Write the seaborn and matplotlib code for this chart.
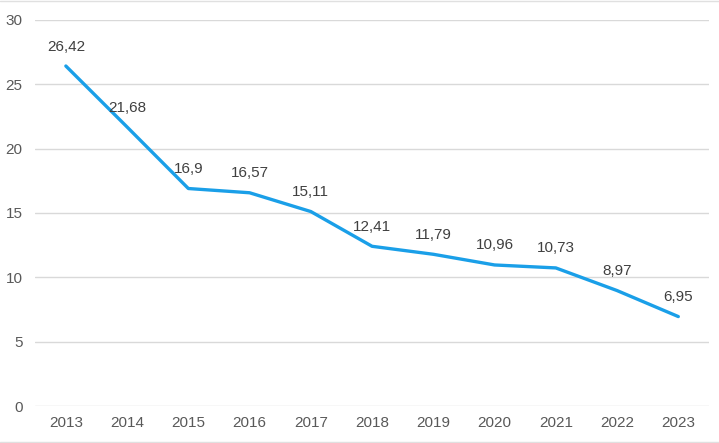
import numpy as np
import pandas as pd
import matplotlib
matplotlib.use('Agg')
import matplotlib.pyplot as plt
import seaborn as sns

years = ['2013', '2014', '2015', '2016', '2017', '2018', '2019', '2020', '2021', '2022', '2023']
values = [26.42, 21.68, 16.9, 16.57, 15.11, 12.41, 11.79, 10.96, 10.73, 8.97, 6.95]
labels = ['26,42', '21,68', '16,9', '16,57', '15,11', '12,41', '11,79', '10,96', '10,73', '8,97', '6,95']

df = pd.DataFrame({'year': years, 'value': values})

sns.set_style('white')
plt.rcParams['font.family'] = ['Arial', 'Liberation Sans', 'DejaVu Sans']

fig = plt.figure(figsize=(7.19, 4.43), dpi=100)
ax = fig.add_axes([0.049, 0.0835, 0.937, 0.8715])

sns.lineplot(data=df, x='year', y='value', ax=ax, color='#1a9fe8', linewidth=2.4, sort=False)

for i, (v, lab) in enumerate(zip(values, labels)):
    ax.annotate(lab, (i, v), xytext=(0, 9), textcoords='offset points',
                ha='center', va='bottom', fontsize=11, color='#404040')

ax.set_ylim(0, 30)
ax.set_xlim(-0.5, len(years) - 0.5)
ax.set_yticks(range(0, 31, 5))
ax.yaxis.grid(True, color='#d9d9d9', linewidth=1)
ax.set_axisbelow(True)
for s in ax.spines.values():
    s.set_visible(False)
ax.tick_params(axis='both', length=0, labelsize=11, labelcolor='#595959')
ax.tick_params(axis='x', pad=7)
ax.tick_params(axis='y', pad=9)
ax.set_xlabel('')
ax.set_ylabel('')

# thin light lines at the top and bottom of the picture
for yy in (0.003, 0.997):
    fig.add_artist(plt.Line2D([0, 1], [yy, yy], transform=fig.transFigure,
                              color='#e0e0e0', linewidth=1))

fig.savefig('out.png', dpi=100)
